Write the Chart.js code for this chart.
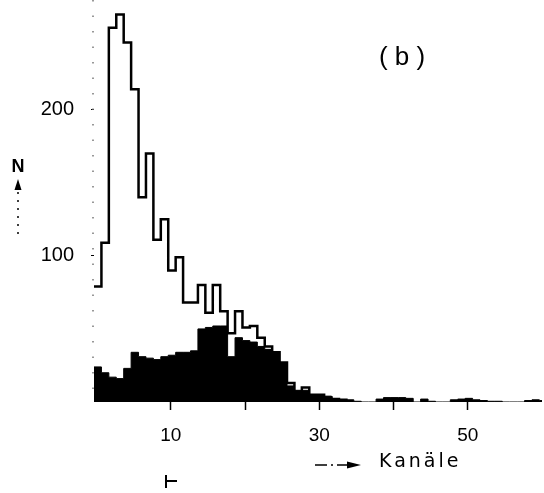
<!DOCTYPE html>
<html lang="de">
<head>
<meta charset="UTF-8">
<title>Kanäle (b)</title>
<style>
    body { margin: 0; background: #fff; }
    .chart-container { position: relative; width: 544px; height: 493px; }
</style>
</head>
<body>
<div class="chart-container">
    <canvas id="myChart"></canvas>
</div>

<script src="https://cdn.jsdelivr.net/npm/chart.js@4/dist/chart.umd.min.js"></script>
<script>
    // channel numbers start at 0, one value per channel
    const firstChannel = 0;

    // open histogram (all events)
    const totalCounts = [79, 109, 256, 265, 246, 214, 140, 170, 111, 125,
                         90, 99, 68, 68, 80, 61, 80, 62, 47, 62,
                         51, 52, 44, 38, 34, 27, 13, 7, 10, 5,
                         5, 3, 2, 1.5];

    // filled histogram (selected events)
    const selectedCounts = [24, 20, 17, 16, 23, 34, 31, 30, 29, 31,
                            32, 34, 34, 35, 50, 51, 52, 52, 31, 44,
                            42, 41, 38, 36, 34, 27, 11, 8, 8, 5,
                            5, 4, 2, 1.5, 1.5, 0.5, 0, 0, 2, 3,
                            3, 3, 2.5, 0, 2, 0.5, 0, 0, 1.5, 2,
                            2.5, 1.5, 1, 0.5, 0.5, 0, 0, 0, 1, 1.5, 1];

    const xTicks = [10, 20, 30, 40, 50];
    const xLabeled = [10, 30, 50];
    const yTicks = [100, 200];

    const binLeft = -0.35; // bin edge relative to channel number

    function stepPoints(counts) {
        const pts = counts.map((v, i) => ({ x: firstChannel + i + binLeft, y: v }));
        pts.push({ x: firstChannel + counts.length + binLeft, y: 0 });
        return pts;
    }

    const labelFont = '"Liberation Sans", Arial, sans-serif';

    const annotations = {
        id: 'annotations',
        beforeDatasetsDraw(chart) {
            // faint dotted y axis
            const ctx = chart.ctx;
            const area = chart.chartArea;
            ctx.save();
            ctx.strokeStyle = '#777';
            ctx.lineWidth = 1.5;
            ctx.setLineDash([1.5, 14]);
            ctx.beginPath();
            ctx.moveTo(area.left - 1, area.top);
            ctx.lineTo(area.left - 1, area.bottom);
            ctx.stroke();
            ctx.restore();
        },
        afterDraw(chart) {
            const ctx = chart.ctx;
            ctx.save();
            ctx.fillStyle = '#000';
            ctx.strokeStyle = '#000';

            // panel label
            ctx.font = '26px ' + labelFont;
            ctx.textAlign = 'center';
            ctx.textBaseline = 'middle';
            ctx.fillText('( b )', 402, 58);

            // y axis label with arrow
            ctx.font = 'bold 18px ' + labelFont;
            ctx.fillText('N', 18, 167);
            ctx.beginPath();
            ctx.moveTo(18, 179);
            ctx.lineTo(14.5, 190);
            ctx.lineTo(21.5, 190);
            ctx.closePath();
            ctx.fill();
            ctx.lineWidth = 1.5;
            ctx.setLineDash([2, 6]);
            ctx.beginPath();
            ctx.moveTo(18, 192);
            ctx.lineTo(18, 240);
            ctx.stroke();
            ctx.setLineDash([]);

            // x axis label with arrow
            ctx.font = '19px "DejaVu Sans", sans-serif';
            ctx.textAlign = 'left';
            ctx.letterSpacing = '3px';
            ctx.fillText('Kanäle', 379, 462);
            ctx.letterSpacing = '0px';
            ctx.lineWidth = 1.5;
            ctx.beginPath();
            ctx.moveTo(315, 465);
            ctx.lineTo(327, 465);
            ctx.moveTo(331, 465);
            ctx.lineTo(333, 465);
            ctx.moveTo(337, 465);
            ctx.lineTo(350, 465);
            ctx.stroke();
            ctx.beginPath();
            ctx.moveTo(361, 465);
            ctx.lineTo(347, 461.5);
            ctx.lineTo(347, 468.5);
            ctx.closePath();
            ctx.fill();

            // small mark under the axis
            ctx.lineWidth = 2;
            ctx.beginPath();
            ctx.moveTo(166, 475);
            ctx.lineTo(166, 488);
            ctx.moveTo(166, 481);
            ctx.lineTo(177, 481);
            ctx.stroke();
            ctx.restore();
        }
    };

    function noPadding(scale) {
        scale.paddingTop = 0;
        scale.paddingBottom = 0;
        scale.paddingLeft = 0;
        scale.paddingRight = 0;
    }

    const ctx = document.getElementById('myChart').getContext('2d');
    const myChart = new Chart(ctx, {
        type: 'line',
        data: {
            datasets: [{
                label: 'Alle',
                data: stepPoints(totalCounts),
                stepped: true,
                borderColor: '#000',
                borderWidth: 2.5,
                pointRadius: 0,
                fill: false,
                order: 0
            }, {
                label: 'Ausgewählt',
                data: stepPoints(selectedCounts),
                stepped: true,
                borderColor: '#000',
                borderWidth: 1,
                backgroundColor: '#000',
                pointRadius: 0,
                fill: 'origin',
                order: 1
            }]
        },
        plugins: [annotations],
        options: {
            responsive: true,
            maintainAspectRatio: false,
            animation: false,
            layout: { autoPadding: false, padding: { top: 0, right: 2, left: 0, bottom: 0 } },
            scales: {
                x: {
                    type: 'linear',
                    min: binLeft,
                    max: 60,
                    afterBuildTicks: scale => { scale.ticks = xTicks.map(v => ({ value: v })); },
                    afterFit: scale => { scale.height = 91; noPadding(scale); },
                    border: { display: false },
                    grid: {
                        drawOnChartArea: false,
                        tickLength: 8,
                        tickWidth: 1.5,
                        tickColor: '#000'
                    },
                    ticks: {
                        autoSkip: false,
                        maxRotation: 0,
                        padding: 14,
                        color: '#000',
                        font: { family: labelFont, size: 19 },
                        callback: v => xLabeled.includes(v) ? String(v) : ''
                    }
                },
                y: {
                    type: 'linear',
                    min: 0,
                    max: 275,
                    afterBuildTicks: scale => { scale.ticks = yTicks.map(v => ({ value: v })); },
                    afterFit: scale => { scale.width = 94; noPadding(scale); },
                    border: { display: false },
                    grid: {
                        drawOnChartArea: false,
                        tickLength: 3,
                        tickColor: '#000'
                    },
                    ticks: {
                        padding: 17,
                        color: '#000',
                        font: { family: labelFont, size: 20 }
                    }
                }
            },
            plugins: {
                legend: { display: false },
                tooltip: { enabled: false }
            }
        }
    });
</script>

</body>
</html>
